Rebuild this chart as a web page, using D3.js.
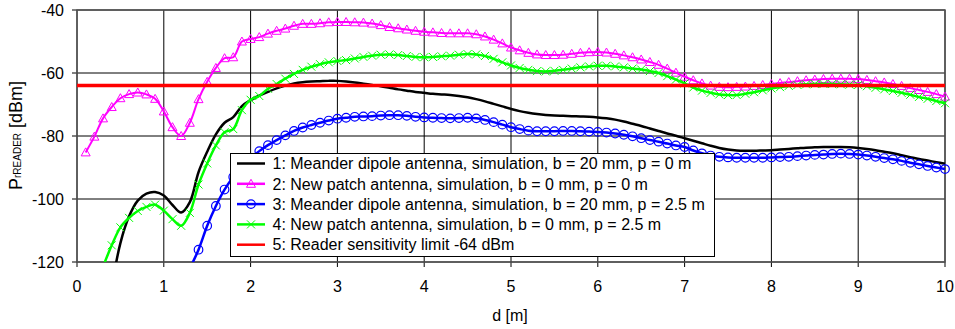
<!DOCTYPE html>
<html><head><meta charset="utf-8">
<script src="https://cdn.jsdelivr.net/npm/d3@7"></script>
<style>html,body{margin:0;padding:0;background:#fff;}svg{display:block;font-family:"Liberation Sans",Arial,sans-serif;}</style>
</head><body><svg id="c" width="955" height="329"></svg>
<script>
const dist = [0.1,0.2,0.3,0.4,0.5,0.6,0.7,0.8,0.9,1.0,1.1,1.2,1.3,1.4,1.5,1.6,1.7,1.8,1.9,2.0,
2.1,2.2,2.3,2.4,2.5,2.6,2.7,2.8,2.9,3.0,3.1,3.2,3.3,3.4,3.5,3.6,3.7,3.8,3.9,4.0,
4.1,4.2,4.3,4.4,4.5,4.6,4.7,4.8,4.9,5.0,5.1,5.2,5.3,5.4,5.5,5.6,5.7,5.8,5.9,6.0,
6.1,6.2,6.3,6.4,6.5,6.6,6.7,6.8,6.9,7.0,7.1,7.2,7.3,7.4,7.5,7.6,7.7,7.8,7.9,8.0,
8.1,8.2,8.3,8.4,8.5,8.6,8.7,8.8,8.9,9.0,9.1,9.2,9.3,9.4,9.5,9.6,9.7,9.8,9.9,10.0];

// 1: Meander dipole antenna, simulation, b = 20 mm, p = 0 m
const s1 = [null,null,null,-128,-114.0,-105.5,-100.5,-98.3,-97.8,-98.9,
-101.9,-104.3,-101.0,-91.5,-85.0,-79.5,-75.8,-74.0,-70.5,-68.6,
-67.2,-66.0,-64.9,-64.0,-63.3,-62.9,-62.7,-62.6,-62.5,-62.5,
-62.7,-63.0,-63.4,-63.8,-64.2,-64.7,-65.2,-65.6,-66.0,-66.3,
-66.6,-66.8,-67.0,-67.3,-67.7,-68.3,-69.0,-69.8,-70.6,-71.4,
-72.1,-72.6,-73.0,-73.3,-73.5,-73.6,-73.7,-73.8,-73.9,-74.1,
-74.4,-74.8,-75.4,-76.1,-76.8,-77.6,-78.4,-79.2,-79.9,-80.7,
-81.5,-82.3,-83.1,-83.8,-84.3,-84.6,-84.7,-84.7,-84.6,-84.5,
-84.3,-84.1,-83.9,-83.7,-83.6,-83.5,-83.5,-83.5,-83.6,-83.8,
-84.1,-84.5,-85.0,-85.5,-86.1,-86.7,-87.3,-87.8,-88.3,-88.8];

// 2: New patch antenna, simulation, b = 0 mm, p = 0 m
const s2 = [-85.2,-80.2,-74.4,-70.8,-68.0,-66.7,-66.2,-66.8,-68.2,-72.2,
-77.2,-80.0,-75.8,-68.3,-62.8,-58.4,-55.3,-55.0,-50.0,-49.2,
-48.6,-47.5,-46.6,-45.9,-45.0,-44.4,-44.4,-44.2,-43.9,-43.8,
-43.8,-43.9,-44.0,-44.3,-44.8,-45.4,-45.8,-46.2,-46.6,-46.9,
-47.1,-47.3,-47.4,-47.4,-47.4,-47.7,-48.4,-49.4,-50.6,-51.9,
-52.8,-53.6,-54.1,-54.3,-54.3,-54.2,-53.9,-53.6,-53.4,-53.3,
-53.5,-53.9,-54.4,-55.0,-55.7,-56.5,-57.4,-58.6,-59.9,-61.2,
-62.3,-63.3,-64.0,-64.4,-64.5,-64.4,-64.3,-64.1,-63.8,-63.5,
-63.2,-62.9,-62.6,-62.3,-62.1,-61.9,-61.8,-61.8,-61.8,-61.9,
-62.2,-62.6,-63.0,-63.5,-64.1,-64.8,-65.4,-66.0,-66.7,-67.5];

// 3: Meander dipole antenna, simulation, b = 20 mm, p = 2.5 m
const s3 = [null,null,null,null,null,null,null,null,null,null,
null,null,-122.0,-116.1,-108.5,-102.2,-97.0,-93.0,-89.8,-87.2,
-84.8,-82.9,-81.3,-79.8,-78.4,-77.3,-76.5,-75.8,-75.1,-74.5,
-74.2,-73.9,-73.8,-73.7,-73.5,-73.4,-73.4,-73.6,-73.9,-74.1,
-74.2,-74.3,-74.4,-74.3,-74.2,-74.4,-74.9,-75.6,-76.4,-77.2,
-77.8,-78.3,-78.5,-78.5,-78.5,-78.4,-78.4,-78.5,-78.6,-78.7,
-78.9,-79.2,-79.6,-80.1,-80.7,-81.3,-81.8,-82.4,-83.0,-83.5,
-84.6,-85.5,-86.2,-86.6,-86.8,-86.9,-86.9,-86.9,-86.9,-86.8,
-86.7,-86.6,-86.4,-86.2,-86.0,-85.9,-85.7,-85.6,-85.7,-85.9,
-86.2,-86.6,-87.0,-87.4,-87.9,-88.5,-89.0,-89.5,-90.0,-90.5];

// 4: New patch antenna, simulation, b = 0 mm, p = 2.5 m
const s4 = [null,null,-121.5,-114.7,-109.0,-106.0,-103.8,-102.5,-101.8,-103.7,
-106.4,-108.5,-104.4,-95.4,-88.7,-83.0,-78.8,-77.8,-71.8,-68.5,
-67.3,-65.0,-63.5,-61.8,-60.3,-59.0,-58.0,-57.2,-56.6,-56.2,
-55.9,-55.4,-54.9,-54.5,-54.2,-54.1,-54.3,-54.6,-54.9,-55.0,
-54.9,-54.7,-54.5,-54.2,-54.0,-54.1,-54.6,-55.5,-56.6,-57.6,
-58.4,-59.0,-59.4,-59.5,-59.3,-59.0,-58.6,-58.2,-57.9,-57.7,
-57.7,-57.9,-58.2,-58.6,-58.9,-59.4,-60.0,-61.0,-62.1,-63.3,
-64.6,-65.6,-66.3,-66.8,-67.0,-67.0,-66.6,-66.1,-65.5,-64.9,
-64.5,-64.1,-63.8,-63.6,-63.5,-63.5,-63.5,-63.6,-63.7,-63.8,
-64.2,-64.7,-65.2,-65.7,-66.3,-66.9,-67.6,-68.2,-68.9,-69.6];

// 5: Reader sensitivity limit
const limitDist = [0, 10];
const limitVal = [-64, -64];

const xTicks = [0,1,2,3,4,5,6,7,8,9,10];
const yTicks = [-40,-60,-80,-100,-120];
const legendLabels = [
 "1: Meander dipole antenna, simulation, b = 20 mm, p = 0 m",
 "2: New patch antenna, simulation, b = 0 mm, p = 0 m",
 "3: Meander dipole antenna, simulation, b = 20 mm, p = 2.5 m",
 "4: New patch antenna, simulation, b = 0 mm, p = 2.5 m",
 "5: Reader sensitivity limit -64 dBm"];
const colors = ["#000000","#ff00ff","#0000ff","#00ff00","#ff0000"];
const markers = [null,"tri","circ","x",null];

const L=77,R=945,T=10,B=262;
const x = d3.scaleLinear().domain([0,10]).range([L,R]);
const y = d3.scaleLinear().domain([-120,-40]).range([B,T]);
const svg = d3.select("#c");

svg.append("defs").append("clipPath").attr("id","cp").append("rect")
  .attr("x",0).attr("y",T).attr("width",955).attr("height",B-T);

// grid
const grid = svg.append("g");
grid.selectAll("line.vx").data(xTicks).join("line")
  .attr("x1",d=>x(d)).attr("x2",d=>x(d)).attr("y1",T).attr("y2",B+5)
  .attr("stroke","#000").attr("stroke-width",1);
grid.selectAll("line.hy").data(yTicks).join("line")
  .attr("y1",d=>y(d)).attr("y2",d=>y(d)).attr("x1",L-5).attr("x2",R)
  .attr("stroke","#000").attr("stroke-width",1);
svg.append("rect").attr("x",L).attr("y",T).attr("width",R-L).attr("height",B-T)
  .attr("fill","none").attr("stroke","#555").attr("stroke-width",1.5);

// axes labels
svg.append("g").selectAll("text").data(xTicks).join("text")
  .attr("x",d=>x(d)).attr("y",292).attr("text-anchor","middle")
  .attr("font-size",16).text(d=>d);
svg.append("g").selectAll("text").data(yTicks).join("text")
  .attr("x",64).attr("y",d=>y(d)).attr("dy","0.36em").attr("text-anchor","end")
  .attr("font-size",16).text(d=>d);
svg.append("text").attr("x",510).attr("y",321).attr("text-anchor","middle")
  .attr("font-size",16).text("d [m]");
const yt = svg.append("text").attr("transform","translate(22,190) rotate(-90)")
  .attr("font-size",18);
yt.append("tspan").text("P");
yt.append("tspan").attr("font-size",10).attr("dy",-1.5).text("rREADER");
yt.append("tspan").attr("dy",1.5).text(" [dBm]");

const series = [s1,s2,s3,s4];
const widths = [2.5,2,2.5,2.5];
const plot = svg.append("g").attr("clip-path","url(#cp)");

function drawMarker(g, type, color, px, py){
  if(type==="tri"){
    g.append("path").attr("d",`M${px},${py-4.5}L${px+4.5},${py+3.5}L${px-4.5},${py+3.5}Z`)
     .attr("fill","none").attr("stroke",color).attr("stroke-width",1);
  } else if(type==="circ"){
    g.append("circle").attr("cx",px).attr("cy",py).attr("r",4.3)
     .attr("fill","none").attr("stroke",color).attr("stroke-width",1.2);
  } else if(type==="x"){
    g.append("path").attr("d",`M${px-4},${py-4}L${px+4},${py+4}M${px-4},${py+4}L${px+4},${py-4}`)
     .attr("fill","none").attr("stroke",color).attr("stroke-width",1);
  }
}

series.forEach((s,i)=>{
  const pts = dist.map((d,k)=>[d,s[k]]).filter(p=>p[1]!==null);
  const line = d3.line().x(p=>x(p[0])).y(p=>y(p[1])).curve(d3.curveCatmullRom.alpha(0.5));
  plot.append("path").datum(pts).attr("d",line).attr("fill","none")
    .attr("stroke",colors[i]).attr("stroke-width",widths[i]);
  if(markers[i]){
    const g = plot.append("g");
    pts.forEach(p=>drawMarker(g,markers[i],colors[i],x(p[0]),y(p[1])));
  }
});
plot.append("line").attr("x1",x(limitDist[0])).attr("x2",x(limitDist[1]))
  .attr("y1",y(limitVal[0])).attr("y2",y(limitVal[1]))
  .attr("stroke","#ff0000").attr("stroke-width",3.5);

// legend
const lg = svg.append("g");
lg.append("rect").attr("x",230.5).attr("y",153.5).attr("width",484).attr("height",103)
  .attr("fill","#fff").attr("stroke","#000").attr("stroke-width",1);
legendLabels.forEach((t,i)=>{
  const cy = 163.5 + i*20.3;
  lg.append("line").attr("x1",237).attr("x2",265).attr("y1",cy).attr("y2",cy)
    .attr("stroke",colors[i]).attr("stroke-width",2.5);
  if(markers[i]) drawMarker(lg,markers[i],colors[i],251,cy);
  lg.append("text").attr("x",272.5).attr("y",cy).attr("dy","0.36em")
    .attr("font-size",16).text(t);
});
</script></body></html>
